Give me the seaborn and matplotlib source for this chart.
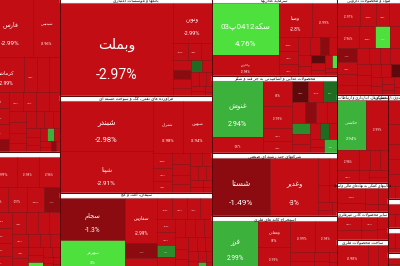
import re
import matplotlib
matplotlib.use("Agg")
import matplotlib.pyplot as plt
from matplotlib.patches import Rectangle
from matplotlib.colors import ListedColormap, BoundaryNorm
import seaborn as sns

# ---------------- data ----------------
a1_labels = ["فارس", "شپدیس", "کرماشا"]
a1_values = [2655, 1593, 1260, 450, 420, 380, 350, 330, 300, 280, 280, 260,
             240, 220, 200, 190, 180, 170, 160, 150, 140, 130,
             120, 110, 100, 90, 85, 80, 70, 60, 55, 50]
a1_pct = [-2.99, -2.96, -2.99, -2.98, -2.99, -2.99, -2.95, -2.99, -2.98, -1.6, -2.99, -2.97,
          -2.99, -2.98, -2.99, -2.96, -2.99, -2.98, -2.99, -2.97, -2.99, -2.99,
          -2.98, -2.99, -2.97, -2.99, 2.5, -2.99, -2.98, -2.99, -1.8, -2.99]

a2_values = [900, 700, 650, 520, 480, 450, 420, 400, 380, 350, 320, 300, 280, 260, 240,
             220, 200, 180, 160, 150, 140, 120, 110, 100, 90, 80, 70, 60, 50, 40]
a2_pct = [-2.99, -2.98, -2.96, -2.99, -2.97, -2.99, -1.7, -2.98, -2.99, -2.95,
          -2.99, -2.98, -2.99, -2.97, -2.99, -2.99, -2.98, -2.99, -2.96, -2.99,
          -2.98, -2.99, -2.97, 3.1, -2.99, -2.98, -2.99, -2.99, -2.97, -2.99]

bank_labels = ["وبملت", "ونوین"]
bank_values = [11075, 1644, 270, 240, 210, 190, 180, 170, 150, 140, 125, 115, 105, 95, 85, 65, 50, 30]
bank_pct = [-2.97, -2.99, -2.99, -2.98, -2.99, -2.97, -1.5, -2.99, -2.98, 0.8,
            -2.99, -2.97, -2.99, -2.98, -2.99, -2.96, -2.99, -2.99]

ref_labels = ["شبندر", "شپنا", "شتران", "شبهرن"]
ref_values = [4911, 4109, 1640, 1610, 300, 270, 240, 220, 200, 180, 160, 150, 140, 120, 110, 100, 90, 80, 70, 50]
ref_pct = [-2.98, -2.91, -2.98, -2.94, -2.99, -2.98, -2.99, -2.97, -2.99, -2.98,
           -2.99, -2.95, -2.99, -2.98, -2.99, -2.97, -2.99, -2.98, -2.99, -2.99]

cem_labels = ["سجام", "سهرمز", "سفارس"]
cem_values = [2988, 2015, 1574, 513, 376, 340, 320, 300, 280, 260, 240, 230, 220, 200, 190,
              180, 170, 160, 150, 140, 130, 120, 110, 100, 90, 80, 70, 60, 50]
cem_pct = [-1.3, 3.0, -2.99, -1.7, -2.99, -2.98, -2.99, -2.97, -2.99, -2.98, -2.99, 1.8, -2.99, -2.96, -2.99,
           -2.98, -2.99, -2.97, -2.99, -2.98, -2.99, -2.99, -2.97, -2.99, -2.98, -2.99, -2.99, 2.2, -2.99]

inv_labels = ["سکه0412پ03", "وخارزم", "وصنا"]
inv_values = [3721, 1503, 1198, 908, 300, 280, 250, 230, 200, 180, 160, 150, 130, 120, 110, 100, 90, 70, 60, 50]
inv_pct = [4.76, -2.98, -2.8, -2.99, -2.99, -2.98, -2.97, -2.99, -2.98, -1.5,
           -2.99, -2.97, -2.99, -0.8, -2.98, -2.99, -2.97, 3.2, -2.99, -2.98]

food_labels = ["غنوش"]
food_values = [3034, 882, 776, 705, 420, 380, 350, 330, 300, 280, 260, 250, 230, 210, 200,
               180, 160, 150, 140, 120, 100, 200]
food_pct = [2.94, -2.97, -3.0, -2.99, -2.98, -2.99, -0.5, -2.97, 0.7, -2.99, -1.2, -2.98, -2.99, 1.6, -2.97,
            -2.99, -2.98, 0.5, -2.99, -2.97, -2.99, 2.5]

multi_labels = ["شستا", "وغدیر"]
multi_values = [3654, 3024, 300, 250, 200, 160, 120, 90, 77]
multi_pct = [-1.49, -3.0, -2.99, -2.98, -2.97, -2.99, -2.98, -2.99, -2.97]

met_labels = ["فرز", "ومعادن"]
met_values = [2438, 918, 777, 828, 762, 250, 200, 160, 130, 100, 62]
met_pct = [2.99, -3.0, -2.99, -2.99, -2.98, -2.99, -2.97, -2.99, -2.98, -2.99, -2.99]

ph_values = [560, 400, 320, 280, 500, 360, 340, 220, 300, 250, 230, 210, 200, 190, 180,
             170, 160, 150, 140, 140, 130, 120, 110, 100, 90, 80, 70, 60, 50]
ph_pct = [-2.97, -2.99, -2.98, -2.99, -2.96, -2.99, 3.3, -2.98, -1.3, -2.99, -2.97, -2.99, -2.98, -2.99, -2.97,
          -2.99, -2.98, -2.99, -2.96, -2.99, -2.98, -0.9, -2.99, -2.97, -2.99, -2.98, -2.99, -2.99, -2.97]

tr_labels = ["حکشتی"]
tr_values = [1537, 1166, 450, 300, 250, 200, 180, 150, 130, 125]
tr_pct = [2.94, -2.99, -2.98, -2.99, -2.97, -2.99, -2.98, -2.99, -2.96, -2.99]

aux_values = [520, 300, 250, 200, 120, 89]
aux_pct = [-2.94, -2.99, -2.98, -2.99, -2.97, -2.99]
onm_values = [380, 300, 250, 200, 150, 148]
onm_pct = [-2.98, -2.99, -2.97, -2.99, -2.98, -2.99]
fab_values = [900, 300, 279]
fab_pct = [-2.98, -2.99, -2.97]
r1_values = [300, 250, 200, 180, 150, 100, 68]
r1_pct = [-2.99, -2.98, -2.99, -2.97, -2.99, -2.98, -2.99]
r2_values = [150, 110, 88]
r2_pct = [-2.99, -2.98, -2.99]
r3_values = [130, 100, 70]
r3_pct = [-2.98, -2.99, -2.97]
r4_values = [110, 82]
r4_pct = [-2.99, -2.98]

SECTORS = {
    "a1": (None, a1_values, a1_pct, a1_labels),
    "a2": ("", a2_values, a2_pct, []),
    "banks": ("بانکها و موسسات اعتباری", bank_values, bank_pct, bank_labels),
    "ref": ("فرآورده های نفتی، کک و سوخت هسته ای", ref_values, ref_pct, ref_labels),
    "cem": ("سیمان، آهک و گچ", cem_values, cem_pct, cem_labels),
    "inv": ("سرمایه گذاریها", inv_values, inv_pct, inv_labels),
    "food": ("محصولات غذایی و آشامیدنی به جز قند و شکر", food_values, food_pct, food_labels),
    "multi": ("شرکتهای چند رشته ای صنعتی", multi_values, multi_pct, multi_labels),
    "met": ("استخراج کانه های فلزی", met_values, met_pct, met_labels),
    "ph": ("مواد و محصولات دارویی", ph_values, ph_pct, []),
    "tr": ("حمل ونقل، انبارداری و ارتباطات", tr_values, tr_pct, tr_labels),
    "aux": ("فعالیتهای کمکی به نهادهای مالی واسط", aux_values, aux_pct, []),
    "onm": ("سایر محصولات کانی غیرفلزی", onm_values, onm_pct, []),
    "fab": ("ساخت محصولات فلزی", fab_values, fab_pct, []),
    "r1": ("بیمه وصندوق بازنشستگی", r1_values, r1_pct, []),
    "r2": ("", r2_values, r2_pct, []),
    "r3": ("", r3_values, r3_pct, []),
    "r4": ("", r4_values, r4_pct, []),
}

LAYOUT = ("h", [
    ("v", ["a1", "a2"]),
    ("v", ["banks", "ref", "cem"]),
    ("v", ["inv", "food", "multi", "met"]),
    ("v", ["ph", ("h", [("v", ["tr", "aux", "onm", "fab"]), ("v", ["r1", "r2", "r3", "r4"])])]),
])

# ---------------- style ----------------
sns.set_theme(style="white")
plt.rcParams["font.family"] = ["Roboto", "DejaVu Sans"]

bounds = [-100, -2, -1, 0, 1, 2, 3, 100]
palette = sns.color_palette(["#c20d14", "#8c0b10", "#5e0a0c", "#1f6b22", "#2c8c2c", "#3cb13c", "#4ee03c"])
cmap = ListedColormap(palette)
norm = BoundaryNorm(bounds, cmap.N)

# ---------------- Persian shaping ----------------
DUAL = {
    'ب': (0xFE8F, 0xFE90, 0xFE91, 0xFE92), 'پ': (0xFB56, 0xFB57, 0xFB58, 0xFB59),
    'ت': (0xFE95, 0xFE96, 0xFE97, 0xFE98), 'ث': (0xFE99, 0xFE9A, 0xFE9B, 0xFE9C),
    'ج': (0xFE9D, 0xFE9E, 0xFE9F, 0xFEA0), 'چ': (0xFB7A, 0xFB7B, 0xFB7C, 0xFB7D),
    'ح': (0xFEA1, 0xFEA2, 0xFEA3, 0xFEA4), 'خ': (0xFEA5, 0xFEA6, 0xFEA7, 0xFEA8),
    'س': (0xFEB1, 0xFEB2, 0xFEB3, 0xFEB4), 'ش': (0xFEB5, 0xFEB6, 0xFEB7, 0xFEB8),
    'ص': (0xFEB9, 0xFEBA, 0xFEBB, 0xFEBC), 'ض': (0xFEBD, 0xFEBE, 0xFEBF, 0xFEC0),
    'ط': (0xFEC1, 0xFEC2, 0xFEC3, 0xFEC4), 'ظ': (0xFEC5, 0xFEC6, 0xFEC7, 0xFEC8),
    'ع': (0xFEC9, 0xFECA, 0xFECB, 0xFECC), 'غ': (0xFECD, 0xFECE, 0xFECF, 0xFED0),
    'ف': (0xFED1, 0xFED2, 0xFED3, 0xFED4), 'ق': (0xFED5, 0xFED6, 0xFED7, 0xFED8),
    'ک': (0xFB8E, 0xFB8F, 0xFB90, 0xFB91), 'گ': (0xFB92, 0xFB93, 0xFB94, 0xFB95),
    'ل': (0xFEDD, 0xFEDE, 0xFEDF, 0xFEE0), 'م': (0xFEE1, 0xFEE2, 0xFEE3, 0xFEE4),
    'ن': (0xFEE5, 0xFEE6, 0xFEE7, 0xFEE8), 'ه': (0xFEE9, 0xFEEA, 0xFEEB, 0xFEEC),
    'ی': (0xFBFC, 0xFBFD, 0xFBFE, 0xFBFF), 'ئ': (0xFE89, 0xFE8A, 0xFE8B, 0xFE8C),
}
RIGHT = {
    'ا': (0xFE8D, 0xFE8E), 'آ': (0xFE81, 0xFE82), 'د': (0xFEA9, 0xFEAA), 'ذ': (0xFEAB, 0xFEAC),
    'ر': (0xFEAD, 0xFEAE), 'ز': (0xFEAF, 0xFEB0), 'ژ': (0xFB8A, 0xFB8B), 'و': (0xFEED, 0xFEEE),
}


def shape(s):
    out = []
    i, n = 0, len(s)
    while i < n:
        c = s[i]
        prev = s[i - 1] if i > 0 else ''
        nxt = s[i + 1] if i + 1 < n else ''
        pj = prev in DUAL
        if c == 'ل' and nxt == 'ا':
            out.append(chr(0xFEFC if pj else 0xFEFB))
            i += 2
            continue
        nj = (nxt in DUAL) or (nxt in RIGHT)
        if c in DUAL:
            f = DUAL[c]
            out.append(chr(f[3] if (pj and nj) else f[1] if pj else f[2] if nj else f[0]))
        elif c in RIGHT:
            f = RIGHT[c]
            out.append(chr(f[1] if pj else f[0]))
        else:
            out.append(c)
        i += 1
    return ''.join(out)


def fa(s):
    toks = re.findall(r'[0-9A-Za-z.%]+|[^0-9A-Za-z.%]+', shape(s))
    vis = [t if re.match(r'[0-9A-Za-z]', t) else t[::-1] for t in toks]
    return ''.join(reversed(vis))


# ---------------- d3-style squarify ----------------
PHI = (1 + 5 ** 0.5) / 2


def squarify(values, x0, y0, x1, y1, ratio=PHI):
    n = len(values)
    rects = [None] * n
    value = float(sum(values))
    i0 = i1 = 0
    while i0 < n:
        dx, dy = x1 - x0, y1 - y0
        sv = values[i1]
        i1 += 1
        mn = mx = sv
        alpha = max(dy / dx, dx / dy) / (value * ratio)
        beta = sv * sv * alpha
        min_ratio = max(mx / beta, beta / mn)
        while i1 < n:
            v = values[i1]
            sv += v
            mn, mx = min(mn, v), max(mx, v)
            beta = sv * sv * alpha
            nr = max(mx / beta, beta / mn)
            if nr > min_ratio:
                sv -= v
                break
            min_ratio = nr
            i1 += 1
        if dx < dy:
            h = dy * sv / value
            x = x0
            for i in range(i0, i1):
                w = dx * values[i] / sv
                rects[i] = (x, y0, w, h)
                x += w
            y0 += h
        else:
            w = dx * sv / value
            y = y0
            for i in range(i0, i1):
                hh = dy * values[i] / sv
                rects[i] = (x0, y, w, hh)
                y += hh
            x0 += w
        value -= sv
        i0 = i1
    return rects


def total(node):
    if isinstance(node, str):
        return sum(SECTORS[node][1])
    return sum(total(k) for k in node[1])


# ---------------- drawing ----------------
X0, X1, Y0, Y1 = -12, 400, -2, 269
HEADER = 5.0

fig = plt.figure(figsize=(4.0, 2.66), dpi=100)
ax = fig.add_axes([0, 0, 1, 1])
ax.set_xlim(0, 400)
ax.set_ylim(266, 0)
ax.axis("off")
renderer = fig.canvas.get_renderer()


def fmt(p):
    return f"{p:g}%"


def draw_sector(key, x0, y0, x1, y1):
    title, values, pcts, labels = SECTORS[key]
    cy0 = y0
    if title is not None:
        hdr = Rectangle((x0, y0), x1 - x0, HEADER, facecolor="white", edgecolor="#dddddd", lw=0.3, zorder=3)
        ax.add_patch(hdr)
        if title:
            t = ax.text((x0 + x1) / 2, y0 + HEADER / 2 + 0.3, fa(title), fontsize=3.2, color="black",
                        ha="center", va="center", zorder=4)
            avail = (x1 - x0) - 2.0
            tw = t.get_window_extent(renderer).width
            if tw > avail:
                t.set_fontsize(max(2.6, 3.2 * avail / tw))
            t.set_clip_path(hdr)
        cy0 = y0 + HEADER
    rects = squarify(values, x0, cy0, x1, y1)
    names = list(labels) + [""] * (len(values) - len(labels))
    for (x, y, w, h), p, name in zip(rects, pcts, names):
        ax.add_patch(Rectangle((x, y), w, h, facecolor=cmap(norm(p)), edgecolor="#7e090d", lw=0.4, zorder=1))
        em = min(w / 7.0, h / 6.5, 14.0)
        fs = em * 0.72
        cx = x + w / 2
        if name and em >= 1.4:
            ax.text(cx, y + 0.45 * h, fa(name), fontsize=fs, color="white", ha="center", va="center",
                    zorder=2, clip_on=True)
            ax.text(cx, y + 0.78 * h, fmt(p), fontsize=fs, color="white", ha="center", va="center",
                    zorder=2, clip_on=True)
        elif em >= 1.8:
            ax.text(cx, y + 0.6 * h, fmt(p), fontsize=fs, color="white", ha="center", va="center",
                    zorder=2, clip_on=True, alpha=0.9)
    ax.add_patch(Rectangle((x0, y0), x1 - x0, y1 - y0, fill=False, edgecolor="#5a0508", lw=0.6, zorder=5))


def place(node, x0, y0, x1, y1):
    if isinstance(node, str):
        draw_sector(node, x0, y0, x1, y1)
        return
    orient, kids = node
    tot = float(sum(total(k) for k in kids))
    if orient == "h":
        x = x0
        for k in kids:
            w = (x1 - x0) * total(k) / tot
            place(k, x, y0, x + w, y1)
            x += w
    else:
        y = y0
        for k in kids:
            h = (y1 - y0) * total(k) / tot
            place(k, x0, y, x1, y + h)
            y += h


place(LAYOUT, X0, Y0, X1, Y1)
fig.savefig("out.png", dpi=100, facecolor="white")
